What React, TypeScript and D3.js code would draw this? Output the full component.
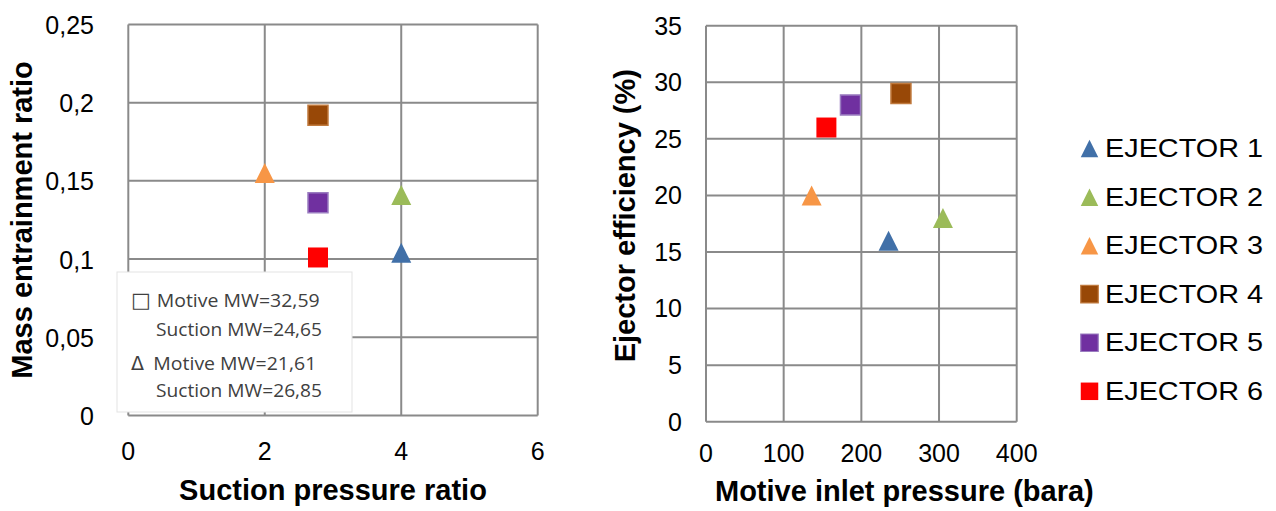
import React, { useEffect, useRef } from 'react';
import * as d3 from 'd3';

// ejector series, in legend order
const ejectorNames = ['EJECTOR 1', 'EJECTOR 2', 'EJECTOR 3', 'EJECTOR 4', 'EJECTOR 5', 'EJECTOR 6'];
const markerShapes = ['triangle', 'triangle', 'triangle', 'square', 'square', 'square'];
const suctionPressureRatio = [4.0, 4.0, 2.0, 2.78, 2.78, 2.78];
const massEntrainmentRatio = [0.104, 0.141, 0.155, 0.192, 0.136, 0.101];
const motiveInletPressure = [235, 305, 136, 251, 186, 155];
const ejectorEfficiency = [16, 18, 20, 29, 28, 26];

const ratioXTicks = [0, 2, 4, 6];
const ratioYTicks = [0, 0.05, 0.1, 0.15, 0.2, 0.25];
const pressureXTicks = [0, 100, 200, 300, 400];
const efficiencyYTicks = [0, 5, 10, 15, 20, 25, 30, 35];

const noteSymbols = ['□', '', 'Δ', ''];
const noteLines = ['Motive MW=32,59', 'Suction MW=24,65', 'Motive MW=21,61', 'Suction MW=26,85'];

const seriesColors = ['#4170a8', '#9bbb59', '#f79646', '#984807', '#7030a0', '#ff0000'];
const seriesStrokes = ['none', 'none', 'none', '#c07a3e', '#9a7cc0', 'none'];

const GRID = '#8a8a8a';
const commaFmt = d3.formatLocale({ decimal: ',', thousands: '.', grouping: [3], currency: ['', ''] }).format('~g');

const markerPath = (shape: string, cx: number, cy: number, s: number) =>
    shape === 'square'
        ? `M${cx - s / 2},${cy - s / 2}h${s}v${s}h${-s}Z`
        : `M${cx},${cy - s / 2}L${cx + s / 2},${cy + s / 2}L${cx - s / 2},${cy + s / 2}Z`;

const App: React.FC = () => {
    const ref = useRef<SVGSVGElement>(null);

    useEffect(() => {
        const svg = d3.select(ref.current);
        svg.selectAll('*').remove();

        const drawGrid = (x: d3.ScaleLinear<number, number>, y: d3.ScaleLinear<number, number>, xt: number[], yt: number[]) => {
            const g = svg.append('g');
            const [x0, x1] = x.range();
            const [y0, y1] = y.range();
            g.selectAll('.hg').data(yt).enter().append('line')
                .attr('x1', x0).attr('x2', x1)
                .attr('y1', (d) => y(d)).attr('y2', (d) => y(d))
                .attr('stroke', GRID).attr('stroke-width', 2);
            g.selectAll('.vg').data(xt).enter().append('line')
                .attr('x1', (d) => x(d)).attr('x2', (d) => x(d))
                .attr('y1', y0).attr('y2', y1)
                .attr('stroke', GRID).attr('stroke-width', 2);
        };

        const drawPoints = (x: d3.ScaleLinear<number, number>, y: d3.ScaleLinear<number, number>, xs: number[], ys: number[]) => {
            svg.append('g').selectAll('path').data(ejectorNames).enter().append('path')
                .attr('d', (_, i) => markerPath(markerShapes[i], x(xs[i]), y(ys[i]), 20))
                .attr('fill', (_, i) => seriesColors[i])
                .attr('stroke', (_, i) => seriesStrokes[i])
                .attr('stroke-width', 1.5);
        };

        // ---- left panel
        const lx = d3.scaleLinear().domain([0, 6]).range([128.3, 537.7]);
        const ly = d3.scaleLinear().domain([0, 0.25]).range([415.4, 24.5]);
        drawGrid(lx, ly, ratioXTicks, ratioYTicks);
        drawPoints(lx, ly, suctionPressureRatio, massEntrainmentRatio);

        // note box over the lower-left of the plot
        svg.append('rect')
            .attr('x', 117).attr('y', 272).attr('width', 235).attr('height', 140)
            .attr('fill', '#fff').attr('stroke', '#e3e3e3').attr('stroke-width', 1);
        const noteBase = [306.7, 336, 370, 397.3];
        const noteStart = [156.7, 156, 153.3, 156];
        const noteLen = [163, 166, 163, 166];
        svg.append('g').selectAll('text').data(noteLines).enter().append('text')
            .attr('x', (_, i) => noteStart[i]).attr('y', (_, i) => noteBase[i])
            .attr('textLength', (_, i) => noteLen[i]).attr('lengthAdjust', 'spacingAndGlyphs')
            .attr('font-family', 'Open Sans, sans-serif').attr('font-size', 19).attr('fill', '#404040')
            .text((d) => d);
        svg.append('g').selectAll('text').data(noteSymbols).enter().append('text')
            .attr('x', 131).attr('y', (_, i) => noteBase[i])
            .attr('font-family', 'DejaVu Sans, sans-serif').attr('font-size', (d) => (d === '□' ? 21 : 19))
            .attr('fill', '#404040')
            .text((d) => d);

        svg.append('g').selectAll('text').data(ratioYTicks).enter().append('text')
            .attr('x', 94).attr('y', (d) => ly(d) + 9.5)
            .attr('text-anchor', 'end').attr('font-size', 25)
            .text((d) => commaFmt(d));
        svg.append('g').selectAll('text').data(ratioXTicks).enter().append('text')
            .attr('x', (d) => lx(d)).attr('y', 460)
            .attr('text-anchor', 'middle').attr('font-size', 25)
            .text((d) => commaFmt(d));

        svg.append('text')
            .attr('x', 333).attr('y', 500).attr('text-anchor', 'middle')
            .attr('font-size', 29).attr('font-weight', 'bold')
            .text('Suction pressure ratio');
        svg.append('text')
            .attr('transform', `translate(32,${(ly.range()[0] + ly.range()[1]) / 2}) rotate(-90)`)
            .attr('text-anchor', 'middle').attr('font-size', 29).attr('font-weight', 'bold')
            .text('Mass entrainment ratio');

        // ---- right panel
        const rx = d3.scaleLinear().domain([0, 400]).range([706, 1016.7]);
        const ry = d3.scaleLinear().domain([0, 35]).range([421.7, 25.7]);
        drawGrid(rx, ry, pressureXTicks, efficiencyYTicks);
        drawPoints(rx, ry, motiveInletPressure, ejectorEfficiency);

        svg.append('g').selectAll('text').data(efficiencyYTicks).enter().append('text')
            .attr('x', 682).attr('y', (d) => ry(d) + 8.8)
            .attr('text-anchor', 'end').attr('font-size', 25)
            .text((d) => String(d));
        svg.append('g').selectAll('text').data(pressureXTicks).enter().append('text')
            .attr('x', (d) => rx(d)).attr('y', 461.7)
            .attr('text-anchor', 'middle').attr('font-size', 25)
            .text((d) => String(d));

        svg.append('text')
            .attr('x', 715).attr('y', 501)
            .attr('font-size', 29).attr('font-weight', 'bold')
            .text('Motive inlet pressure (bara)');
        svg.append('text')
            .attr('transform', `translate(635,${(ry.range()[0] + ry.range()[1]) / 2 - 8}) rotate(-90)`)
            .attr('text-anchor', 'middle').attr('font-size', 29).attr('font-weight', 'bold')
            .text('Ejector efficiency (%)');

        // ---- legend
        const legendBase = d3.scaleLinear().domain([0, 5]).range([157.3, 400]);
        const legend = svg.append('g').selectAll('g').data(ejectorNames).enter().append('g');
        legend.append('path')
            .attr('d', (_, i) => markerPath(markerShapes[i], 1089.5, legendBase(i) - 8.7, 17.5))
            .attr('fill', (_, i) => seriesColors[i])
            .attr('stroke', (_, i) => seriesStrokes[i]).attr('stroke-width', 1.2);
        legend.append('text')
            .attr('x', 1105).attr('y', (_, i) => legendBase(i))
            .attr('font-size', 26).attr('textLength', 158).attr('lengthAdjust', 'spacingAndGlyphs')
            .text((d) => d);
    }, []);

    return (
        <svg
            ref={ref}
            width={1276}
            height={511}
            style={{ position: 'absolute', left: 0, top: 0, background: '#fff', fontFamily: 'Liberation Sans, Arial, sans-serif' }}
        />
    );
};

export default App;
